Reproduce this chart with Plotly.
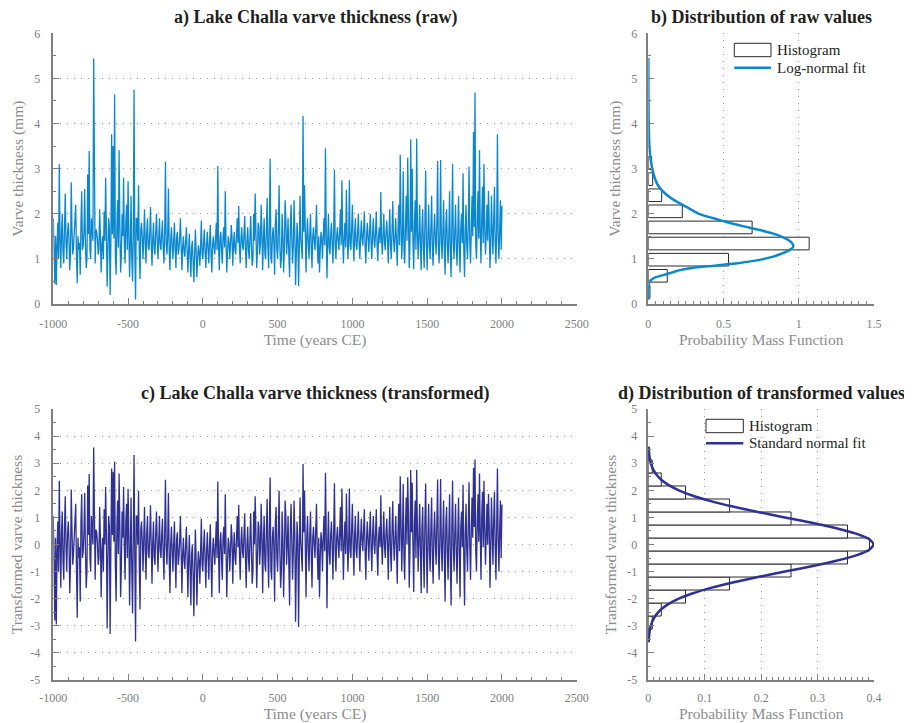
import plotly.graph_objects as go

# ---------------- data ----------------
# Lake Challa varve thickness (mm), read at 5-year steps from -1000 to 2000 CE
raw_mm = [
    1.9, 1.2, 0.45, 1.5, 0.42, 1.3, 1.8, 1.0, 3.1, 1.4, 0.8, 1.6, 2.0, 1.15, 0.9, 1.7, 2.45, 1.35, 1.0, 1.55,
    1.8, 1.45, 0.75, 1.1, 2.7, 1.65, 1.1, 1.25, 1.6, 1.75, 2.2, 1.05, 0.46, 1.5, 1.2, 1.35, 0.65, 1.8, 2.5, 1.2,
    1.3, 1.6, 2.55, 1.3, 0.8, 1.0, 2.87, 1.55, 3.39, 1.2, 1.0, 1.9, 1.7, 1.4, 5.44, 1.1, 0.9, 1.65, 1.6, 1.45,
    1.1, 1.2, 2.1, 1.5, 0.7, 1.3, 1.5, 1.0, 2.05, 1.4, 2.8, 1.6, 0.38, 1.15, 1.9, 1.7, 0.2, 1.35, 3.76, 1.55,
    3.5, 1.45, 4.65, 1.1, 0.65, 1.65, 2.3, 1.25, 3.41, 1.75, 0.7, 1.05, 2.0, 1.5, 2.8, 1.35, 0.9, 1.8, 2.2, 1.2,
    2.72, 1.6, 0.6, 1.3, 2.4, 1.0, 0.5, 1.55, 4.75, 1.2, 0.10, 1.9, 1.9, 1.4, 2.63, 1.1, 0.55, 1.65, 1.8, 1.45,
    1.0, 1.5, 2.1, 1.3, 0.9, 1.6, 1.9, 1.25, 1.2, 1.55, 2.15, 1.35, 0.85, 1.45, 1.8, 1.2, 1.1, 1.6, 2.0, 1.4,
    1.0, 1.45, 1.9, 1.3, 1.2, 1.55, 1.85, 1.25, 0.9, 1.6, 3.15, 1.35, 1.1, 1.5, 2.56, 1.2, 0.75, 1.4, 1.7, 1.3,
    1.0, 1.4, 1.8, 1.2, 0.8, 1.5, 1.6, 1.1, 1.2, 1.45, 1.9, 1.3, 0.75, 1.25, 1.5, 1.15, 1.05, 1.4, 1.7, 1.2,
    0.7, 1.2, 1.55, 1.0, 0.6, 1.25, 1.4, 0.95, 0.48, 1.1, 1.65, 1.2, 0.6, 1.0, 1.3, 1.15, 0.85, 1.3, 1.85, 1.1,
    1.0, 1.35, 1.65, 1.15, 0.8, 1.3, 1.6, 1.2, 0.9, 1.4, 1.75, 1.1, 0.7, 1.3, 1.5, 1.25, 1.1, 1.45, 1.8, 1.2,
    3.06, 1.3, 0.75, 1.45, 1.6, 1.2, 0.9, 1.5, 1.7, 1.25, 2.5, 1.35, 0.7, 1.15, 1.5, 1.4, 1.0, 1.3, 1.75, 1.5,
    0.85, 1.3, 1.6, 1.2, 1.1, 1.5, 1.9, 1.35, 2.17, 1.25, 0.9, 1.45, 1.7, 1.3, 1.2, 1.55, 1.95, 1.2, 0.8, 1.4,
    1.7, 1.2, 1.0, 1.5, 1.95, 1.3, 0.85, 1.0, 2.0, 1.4, 2.45, 1.6, 0.8, 1.15, 1.8, 1.7, 1.1, 1.35, 2.2, 1.55,
    0.75, 1.45, 1.9, 1.1, 1.0, 1.65, 2.35, 1.25, 0.8, 1.75, 3.22, 1.05, 0.9, 1.5, 1.7, 1.35, 0.65, 1.8, 2.1, 1.2,
    1.0, 1.6, 2.63, 1.3, 0.8, 1.0, 2.0, 1.55, 0.7, 1.2, 2.3, 1.9, 1.1, 1.4, 1.9, 1.1, 0.6, 1.65, 2.2, 1.45,
    0.9, 1.3, 2.3, 1.6, 0.42, 1.1, 1.8, 1.5, 0.4, 1.2, 2.4, 1.45, 1.0, 1.0, 4.17, 1.6, 2.63, 1.35, 0.7, 1.5,
    1.9, 1.35, 1.0, 1.55, 2.0, 1.25, 0.8, 1.5, 1.7, 1.4, 1.2, 1.65, 2.2, 1.3, 0.9, 1.5, 0.7, 1.2, 1.6, 1.45,
    1.0, 1.5, 1.9, 1.3, 3.45, 1.6, 0.57, 1.4, 2.0, 1.25, 1.1, 1.55, 1.8, 1.35, 0.9, 1.6, 2.98, 1.3, 1.0, 1.5,
    1.7, 1.4, 1.2, 1.6, 2.1, 1.3, 2.74, 1.5, 0.9, 1.45, 1.8, 1.25, 2.53, 1.55, 1.0, 1.4, 2.74, 1.3, 1.2, 1.65,
    2.2, 1.4, 0.95, 1.55, 1.9, 1.3, 1.2, 1.6, 2.0, 1.35, 1.0, 1.5, 1.85, 1.45, 1.3, 1.65, 2.05, 1.3, 0.9, 1.5,
    1.8, 1.45, 1.15, 1.6, 2.0, 1.35, 1.0, 1.55, 1.9, 1.4, 1.25, 1.6, 2.05, 1.3, 0.95, 1.5, 1.7, 1.35, 2.48, 1.45,
    1.1, 1.5, 2.0, 1.35, 1.2, 1.6, 1.85, 1.4, 0.9, 1.55, 2.1, 1.3, 1.0, 1.6, 2.28, 1.45, 1.15, 1.5, 1.9, 1.35,
    0.85, 1.6, 2.2, 1.3, 3.31, 1.8, 1.0, 1.5, 2.94, 1.2, 0.9, 1.7, 2.4, 1.4, 3.24, 1.9, 0.8, 1.3, 3.65, 1.6,
    3.0, 1.4, 0.77, 1.75, 2.3, 1.2, 3.67, 1.6, 1.0, 1.5, 2.2, 1.3, 0.75, 1.65, 2.1, 1.25, 0.8, 1.8, 2.96, 1.35,
    0.75, 1.5, 2.2, 1.3, 1.0, 1.7, 2.4, 1.2, 0.85, 1.6, 2.0, 1.4, 1.1, 1.8, 3.17, 1.25, 0.9, 1.55, 3.19, 1.35,
    1.0, 1.6, 2.3, 1.2, 0.65, 1.75, 2.1, 1.3, 0.9, 1.55, 2.5, 1.15, 0.6, 1.7, 3.11, 1.35, 1.0, 1.6, 2.2, 1.25,
    0.85, 1.55, 2.4, 1.25, 0.7, 1.7, 2.0, 1.35, 2.9, 1.2, 0.6, 1.6, 2.2, 1.3, 1.0, 1.75, 3.04, 1.4, 0.9, 1.6,
    2.4, 1.5, 3.81, 1.7, 4.69, 1.3, 1.0, 1.8, 2.5, 1.45, 3.41, 1.6, 0.9, 1.9, 2.6, 1.35, 3.1, 1.7, 1.1, 1.55,
    2.2, 1.4, 2.51, 1.75, 0.8, 1.3, 2.4, 1.6, 1.1, 1.85, 2.6, 1.35, 0.9, 1.7, 3.76, 1.45, 1.0, 1.65, 2.3, 1.2,
    2.18,
]

# transformed (normal-score) varve thickness, same years
transformed = [
    1.05, -0.5, -2.8, 0.25, -2.95, -0.25, 0.85, -1.0, 2.35, 0.0, -1.6, 0.45, 1.22, -0.6, -1.3, 0.65, 1.78, -0.1, -1.0, 0.35,
    0.85, 0.1, -1.8, -0.75, 2.03, 0.55, -0.75, -0.35, 0.45, 0.75, 1.5, -0.9, -2.7, 0.25, -0.5, -0.1, -2.1, 0.85, 1.85, -0.5,
    -0.25, 0.45, 1.9, -0.25, -1.6, -1.0, 2.18, 0.35, 2.6, -0.5, -1.0, 1.05, 0.65, 0.0, 3.58, -0.75, -1.3, 0.55, 0.45, 0.1,
    -0.75, -0.5, 1.38, 0.25, -1.95, -0.25, 0.25, -1.0, 1.3, 0.0, 2.12, 0.45, -3.1, -0.6, 1.05, 0.65, -3.3, -0.1, 2.8, 0.35,
    2.68, 0.1, 3.05, -0.75, -2.1, 0.55, 1.62, -0.35, 2.62, 0.75, -1.95, -0.9, 1.22, 0.25, 2.12, -0.1, -1.3, 0.85, 1.5, -0.5,
    2.05, 0.45, -2.25, -0.25, 1.73, -1.0, -2.55, 0.35, 3.3, -0.5, -3.58, 1.05, 1.05, 0.0, 1.98, -0.75, -2.4, 0.55, 0.85, 0.1,
    -1.0, 0.25, 1.38, -0.25, -1.3, 0.45, 1.05, -0.35, -0.5, 0.35, 1.45, -0.1, -1.45, 0.1, 0.85, -0.5, -0.75, 0.45, 1.22, 0.0,
    -1.0, 0.1, 1.05, -0.25, -0.5, 0.35, 0.95, -0.35, -1.3, 0.45, 2.39, -0.1, -0.75, 0.25, 1.9, -0.5, -1.8, 0.0, 0.65, -0.25,
    -1.0, 0.0, 0.85, -0.5, -1.6, 0.25, 0.45, -0.75, -0.5, 0.1, 1.05, -0.25, -1.8, -0.35, 0.25, -0.6, -0.9, 0.0, 0.65, -0.5,
    -1.95, -0.5, 0.35, -1.0, -2.25, -0.35, 0.0, -1.15, -2.65, -0.75, 0.55, -0.5, -2.25, -1.0, -0.25, -0.6, -1.45, -0.25, 0.95, -0.75,
    -1.0, -0.1, 0.55, -0.6, -1.6, -0.25, 0.45, -0.5, -1.3, 0.0, 0.75, -0.75, -1.95, -0.25, 0.25, -0.35, -0.75, 0.1, 0.85, -0.5,
    2.32, -0.25, -1.8, 0.1, 0.45, -0.5, -1.3, 0.25, 0.65, -0.35, 1.85, -0.1, -1.95, -0.6, 0.25, 0.0, -1.0, -0.25, 0.75, 0.25,
    -1.45, -0.25, 0.45, -0.5, -0.75, 0.25, 1.05, -0.1, 1.47, -0.35, -1.3, 0.1, 0.65, -0.25, -0.5, 0.35, 1.15, -0.5, -1.6, 0.0,
    0.65, -0.5, -1.0, 0.25, 1.15, -0.25, -1.45, -1.0, 1.22, 0.0, 1.78, 0.45, -1.6, -0.6, 0.85, 0.65, -0.75, -0.1, 1.5, 0.35,
    -1.8, 0.1, 1.05, -0.75, -1.0, 0.55, 1.68, -0.35, -1.6, 0.75, 2.47, -0.9, -1.3, 0.25, 0.65, -0.1, -2.1, 0.85, 1.38, -0.5,
    -1.0, 0.45, 1.98, -0.25, -1.6, -1.0, 1.22, 0.35, -1.95, -0.5, 1.62, 1.05, -0.75, 0.0, 1.05, -0.75, -2.25, 0.55, 1.5, 0.1,
    -1.3, -0.25, 1.62, 0.45, -2.85, -0.75, 0.85, 0.25, -3.04, -0.5, 1.73, 0.1, -1.0, -1.0, 2.97, 0.45, 1.98, -0.1, -1.95, 0.25,
    1.05, -0.1, -1.0, 0.35, 1.22, -0.35, -1.6, 0.25, 0.65, 0.0, -0.5, 0.55, 1.5, -0.25, -1.3, 0.25, -1.95, -0.5, 0.45, 0.1,
    -1.0, 0.25, 1.05, -0.25, 2.65, 0.45, -2.35, 0.0, 1.22, -0.35, -0.75, 0.35, 0.85, -0.1, -1.3, 0.45, 2.26, -0.25, -1.0, 0.25,
    0.65, 0.0, -0.5, 0.45, 1.38, -0.25, 2.07, 0.25, -1.3, 0.1, 0.85, -0.35, 1.88, 0.35, -1.0, 0.0, 2.07, -0.25, -0.5, 0.55,
    1.5, 0.0, -1.15, 0.35, 1.05, -0.25, -0.5, 0.45, 1.22, -0.1, -1.0, 0.25, 0.95, 0.1, -0.25, 0.55, 1.3, -0.25, -1.3, 0.25,
    0.85, 0.1, -0.6, 0.45, 1.22, -0.1, -1.0, 0.35, 1.05, 0.0, -0.35, 0.45, 1.3, -0.25, -1.15, 0.25, 0.65, -0.1, 1.82, 0.1,
    -0.75, 0.25, 1.22, -0.1, -0.5, 0.45, 0.95, 0.0, -1.3, 0.35, 1.38, -0.25, -1.0, 0.45, 1.6, 0.1, -0.6, 0.25, 1.05, -0.1,
    -1.45, 0.45, 1.5, -0.25, 2.52, 0.85, -1.0, 0.25, 2.23, -0.5, -1.3, 0.65, 1.73, 0.0, 2.48, 1.05, -1.6, -0.25, 2.75, 0.45,
    2.28, 0.0, -1.75, 0.75, 1.62, -0.5, 2.76, 0.45, -1.0, 0.25, 1.5, -0.25, -1.8, 0.55, 1.38, -0.35, -1.6, 0.85, 2.25, -0.1,
    -1.8, 0.25, 1.5, -0.25, -1.0, 0.65, 1.73, -0.5, -1.45, 0.45, 1.22, 0.0, -0.75, 0.85, 2.4, -0.35, -1.3, 0.35, 2.42, -0.1,
    -1.0, 0.45, 1.62, -0.5, -2.1, 0.75, 1.38, -0.25, -1.3, 0.35, 1.85, -0.6, -2.25, 0.65, 2.36, -0.1, -1.0, 0.45, 1.5, -0.35,
    -1.45, 0.35, 1.73, -0.35, -1.95, 0.65, 1.22, -0.1, 2.2, -0.5, -2.25, 0.45, 1.5, -0.25, -1.0, 0.75, 2.3, 0.0, -1.3, 0.45,
    1.73, 0.25, 2.83, 0.65, 3.14, -0.25, -1.0, 0.85, 1.85, 0.1, 2.62, 0.45, -1.3, 1.05, 1.95, -0.1, 2.35, 0.65, -0.75, 0.35,
    1.5, 0.0, 1.86, 0.75, -1.6, -0.25, 1.73, 0.45, -0.75, 0.95, 1.95, -0.1, -1.3, 0.65, 2.8, 0.1, -1.0, 0.55, 1.62, -0.5,
    1.48,
]

years = list(range(-1000, -1000 + 5 * len(raw_mm), 5))

# histogram of raw values (bin centres in mm, probability values)
hist_raw_centers = [0.268, 0.625, 0.982, 1.34, 1.697, 2.054, 2.411, 2.768, 3.125]
hist_raw_values = [0.011, 0.126, 0.533, 1.069, 0.69, 0.226, 0.089, 0.029, 0.022]

# log-normal fit curve (thickness, density)
lognorm_y = [0.09, 0.3, 0.45, 0.5, 0.55, 0.6, 0.65, 0.7, 0.75, 0.8,
             0.85, 0.9, 0.95, 1.0, 1.05, 1.12, 1.2, 1.27, 1.35, 1.42,
             1.5, 1.57, 1.64, 1.71, 1.78, 1.86, 1.93, 2.01, 2.12, 2.23,
             2.34, 2.45, 2.56, 2.67, 2.8, 2.97, 3.2, 3.41, 3.8, 4.2,
             4.6, 5.0, 5.45]
lognorm_x = [0.0, 0.0, 0.004, 0.01, 0.025, 0.055, 0.11, 0.16, 0.21, 0.29,
             0.44, 0.58, 0.69, 0.77, 0.83, 0.89, 0.94, 0.963, 0.955, 0.93,
             0.88, 0.82, 0.74, 0.65, 0.56, 0.476, 0.40, 0.33, 0.27, 0.21,
             0.155, 0.112, 0.08, 0.058, 0.042, 0.028, 0.016, 0.009, 0.004, 0.002,
             0.001, 0.0005, 0.0]

# histogram of transformed values
hist_tr_centers = [-3.36, -2.88, -2.4, -1.92, -1.44, -0.96, -0.48, 0.0,
                   0.48, 0.96, 1.44, 1.92, 2.4, 2.88, 3.36]
hist_tr_values = [0.0015, 0.007, 0.023, 0.066, 0.144, 0.253, 0.353, 0.392,
                  0.353, 0.253, 0.144, 0.066, 0.023, 0.007, 0.0015]

# standard normal fit curve
normal_y = [-3.6, -3.4, -3.2, -3.0, -2.8, -2.6, -2.4, -2.2, -2.0, -1.8,
            -1.6, -1.4, -1.2, -1.0, -0.8, -0.6, -0.4, -0.2, 0.0, 0.2,
            0.4, 0.6, 0.8, 1.0, 1.2, 1.4, 1.6, 1.8, 2.0, 2.2,
            2.4, 2.6, 2.8, 3.0, 3.2, 3.4, 3.6]
normal_x = [0.0006, 0.0012, 0.0024, 0.0044, 0.0079, 0.0136, 0.0224, 0.0355, 0.0540, 0.0790,
            0.1109, 0.1497, 0.1942, 0.2420, 0.2897, 0.3332, 0.3683, 0.3910, 0.3989, 0.3910,
            0.3683, 0.3332, 0.2897, 0.2420, 0.1942, 0.1497, 0.1109, 0.0790, 0.0540, 0.0355,
            0.0224, 0.0136, 0.0079, 0.0044, 0.0024, 0.0012, 0.0006]

# tick labels
time_ticks = [-1000, -500, 0, 500, 1000, 1500, 2000, 2500]
time_tick_labels = ["-1000", "-500", "0", "500", "1000", "1500", "2000", "2500"]
raw_ticks = [0, 1, 2, 3, 4, 5, 6]
raw_tick_labels = ["0", "1", "2", "3", "4", "5", "6"]
tr_ticks = [-5, -4, -3, -2, -1, 0, 1, 2, 3, 4, 5]
tr_tick_labels = ["-5", "-4", "-3", "-2", "-1", "0", "1", "2", "3", "4", "5"]
pmf_raw_ticks = [0, 0.5, 1, 1.5]
pmf_raw_labels = ["0", "0.5", "1", "1.5"]
pmf_tr_ticks = [0, 0.1, 0.2, 0.3, 0.4]
pmf_tr_labels = ["0", "0.1", "0.2", "0.3", "0.4"]

# ---------------- style ----------------
FONT = "Liberation Serif"
RAW_C = "#0a88cf"
TR_C = "#2e3192"
GRAY = "#808080"
TXT = "#231f20"
# page is shown with an 8px body margin, so the figure is 904x715
W, H = 904, 715
ML, MR, MT, MB = 45, 38, 25, 43
PW, PH = W - ML - MR, H - MT - MB


def fx(px):
    # px measured in screen pixels
    return (px - 8 - ML) / PW


def fy(py):
    return (H - MB - (py - 8)) / PH


def clamp(v):
    return max(0.0, min(1.0, v))


def axis(domain, rng, tickvals, ticktext, minor_dtick, grid, title, anchor, standoff, tlso):
    return dict(
        domain=[clamp(domain[0]), clamp(domain[1])], range=rng, anchor=anchor,
        tickmode="array", tickvals=tickvals, ticktext=ticktext,
        showline=True, linecolor=GRAY, linewidth=1.5,
        ticks="inside", ticklen=6, tickwidth=1, tickcolor=GRAY,
        minor=dict(dtick=minor_dtick, tick0=0, ticks="inside", ticklen=3,
                   tickcolor=GRAY, tickwidth=1, showgrid=False),
        tickfont=dict(family=FONT, size=12, color=GRAY),
        ticklabelstandoff=tlso,
        showgrid=grid, gridcolor="#9a9a9a", griddash="1px,6px", gridwidth=1,
        zeroline=False, automargin=False, fixedrange=True,
        title=dict(text=title, font=dict(family=FONT, size=15.5, color="#8c8c8c"),
                   standoff=standoff),
    )


fig = go.Figure()

# a) raw time series
fig.add_trace(go.Scatter(x=years, y=raw_mm, mode="lines",
                         line=dict(color=RAW_C, width=1.3),
                         xaxis="x", yaxis="y", showlegend=False))
# b) histogram + log-normal fit
fig.add_trace(go.Bar(y=hist_raw_centers, x=hist_raw_values, orientation="h", width=0.28,
                     marker=dict(color="white", line=dict(color="#2a2a2a", width=1)),
                     xaxis="x2", yaxis="y2", showlegend=False))
fig.add_trace(go.Scatter(x=lognorm_x, y=lognorm_y, mode="lines",
                         line=dict(color=RAW_C, width=2.5, shape="spline", smoothing=0.6),
                         xaxis="x2", yaxis="y2", showlegend=False))
# c) transformed time series
fig.add_trace(go.Scatter(x=years, y=transformed, mode="lines",
                         line=dict(color=TR_C, width=1.3),
                         xaxis="x3", yaxis="y3", showlegend=False))
# d) histogram + standard normal fit
fig.add_trace(go.Bar(y=hist_tr_centers, x=hist_tr_values, orientation="h", width=0.48,
                     marker=dict(color="white", line=dict(color="#2a2a2a", width=1)),
                     xaxis="x4", yaxis="y4", showlegend=False))
fig.add_trace(go.Scatter(x=normal_x, y=normal_y, mode="lines",
                         line=dict(color=TR_C, width=2.5, shape="spline", smoothing=0.8),
                         xaxis="x4", yaxis="y4", showlegend=False))

xa_left = [fx(53.3), fx(576.7)]
xa_right = [fx(648.3), fx(874.3)]
ya_top = [fy(304), fy(33.3)]
ya_bot = [fy(680), fy(409)]

fig.update_layout(
    width=W, height=H, template="none",
    paper_bgcolor="white", plot_bgcolor="rgba(0,0,0,0)",
    margin=dict(l=ML, r=MR, t=MT, b=MB, autoexpand=False),
    barmode="overlay", showlegend=False,
    xaxis=axis(xa_left, [-1000, 2500], time_ticks, time_tick_labels, 100, False,
               "Time (years CE)", "y", 2, 8),
    yaxis=axis(ya_top, [0, 6], raw_ticks, raw_tick_labels, 0.5, True,
               "Varve thickness (mm)", "x", 7, 9),
    xaxis2=axis(xa_right, [0, 1.5], pmf_raw_ticks, pmf_raw_labels, 0.05, True,
                "Probability Mass Function", "y2", 2, 8),
    yaxis2=axis(ya_top, [0, 6], raw_ticks, raw_tick_labels, 0.5, False,
                "Varve thickness (mm)", "x2", 7, 7),
    xaxis3=axis(xa_left, [-1000, 2500], time_ticks, time_tick_labels, 100, False,
                "Time (years CE)", "y3", 4, 6),
    yaxis3=axis(ya_bot, [-5, 5], tr_ticks, tr_tick_labels, 0.5, True,
                "Transformed varve thickness", "x3", 7, 9),
    xaxis4=axis(xa_right, [0, 0.4], pmf_tr_ticks, pmf_tr_labels, 0.01, True,
                "Probability Mass Function", "y4", 4, 6),
    yaxis4=axis(ya_bot, [-5, 5], tr_ticks, tr_tick_labels, 0.5, False,
                "Transformed varve thickness", "x4", 7, 7),
)

# panel titles
titles = [
    ("a) Lake Challa varve thickness (raw)", 315, 18),
    ("b) Distribution of raw values", 761, 18),
    ("c) Lake Challa varve thickness (transformed)", 315, 393),
    ("d) Distribution of transformed values", 761, 393),
]
for text, cx, cy in titles:
    fig.add_annotation(text="<b>%s</b>" % text, xref="paper", yref="paper",
                       x=fx(cx), y=fy(cy), xanchor="center", yanchor="middle",
                       showarrow=False, font=dict(family=FONT, size=18, color=TXT))

# custom legends
legends = [
    (734.3, 771.0, 43.3, 56.7, 67.7, 775, "Histogram", "Log-normal fit", RAW_C),
    (706.0, 743.3, 419.3, 432.7, 443.3, 746.5, "Histogram", "Standard normal fit", TR_C),
]
for x0, x1, y0, y1, yl, xt, t1, t2, col in legends:
    fig.add_shape(type="rect", xref="paper", yref="paper",
                  x0=fx(x0), x1=fx(x1), y0=fy(y1), y1=fy(y0),
                  line=dict(color="#2a2a2a", width=1), fillcolor="white")
    fig.add_shape(type="line", xref="paper", yref="paper",
                  x0=fx(x0), x1=fx(x1), y0=fy(yl), y1=fy(yl),
                  line=dict(color=col, width=2.5))
    fig.add_annotation(text=t1, xref="paper", yref="paper", x=fx(xt), y=fy((y0 + y1) / 2),
                       xanchor="left", yanchor="middle", showarrow=False,
                       font=dict(family=FONT, size=15, color=TXT))
    fig.add_annotation(text=t2, xref="paper", yref="paper", x=fx(xt), y=fy(yl),
                       xanchor="left", yanchor="middle", showarrow=False,
                       font=dict(family=FONT, size=15, color=TXT))

fig.write_html("out.html")
